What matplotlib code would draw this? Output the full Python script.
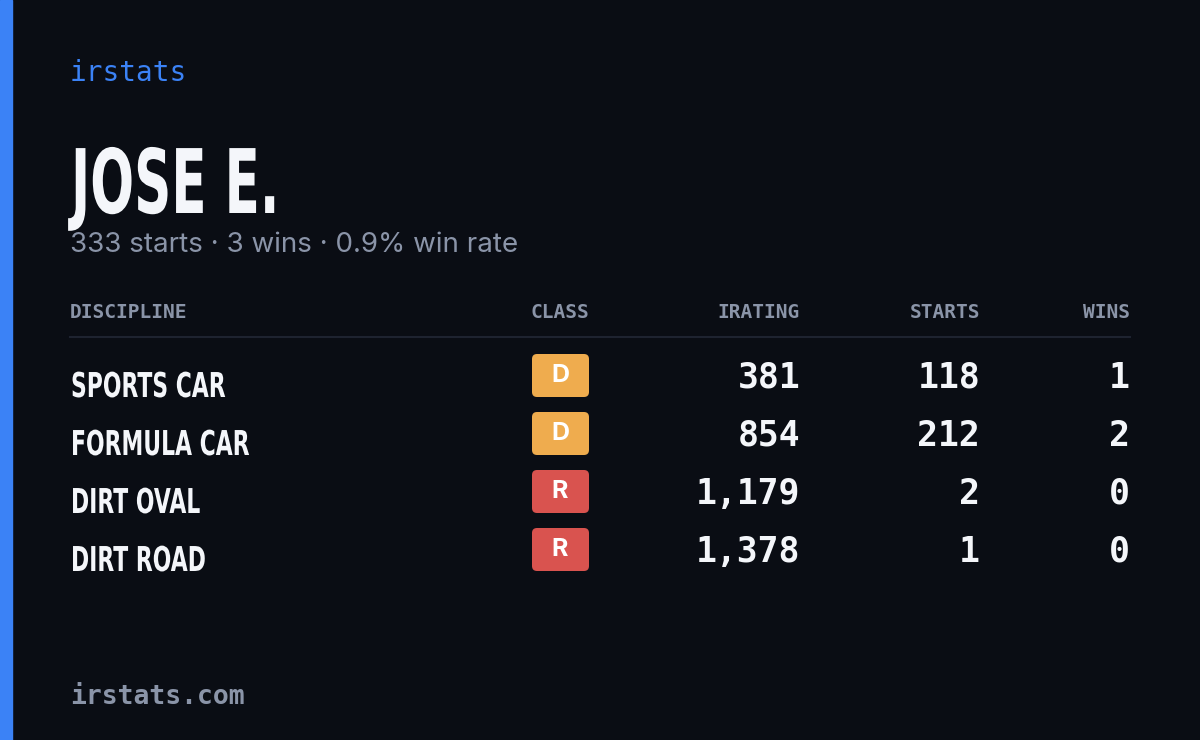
import matplotlib.pyplot as plt
from matplotlib.patches import FancyBboxPatch, Rectangle, PathPatch
from matplotlib.textpath import TextPath
from matplotlib.font_manager import FontProperties
from matplotlib.transforms import Affine2D

# Data
player = "JOSE E."
total_starts = 333
total_wins = 3
disciplines = ["SPORTS CAR", "FORMULA CAR", "DIRT OVAL", "DIRT ROAD"]
classes = ["D", "D", "R", "R"]
iratings = [381, 854, 1179, 1378]
starts = [118, 212, 2, 1]
wins = [1, 2, 0, 0]

bg = "#0a0d14"
gray = "#8a94a8"
white = "#f4f6fa"
class_colors = {"D": "#efac4e", "R": "#d9534f"}
mono = "DejaVu Sans Mono"
boldfp = FontProperties(family="DejaVu Sans", weight="bold")

fig = plt.figure(figsize=(12, 7.4), dpi=100, facecolor=bg)
ax = fig.add_axes([0, 0, 1, 1])
ax.set_xlim(0, 1200)
ax.set_ylim(740, 0)
ax.axis("off")
ax.add_patch(Rectangle((0, 0), 12, 740, color="#3b82f6"))


def narrow_text(s, x, baseline, cap, sx):
    # condensed text: squeeze a bold text path horizontally
    tp = TextPath((0, 0), s, size=100, prop=boldfp)
    sy = cap / 73.0
    tr = Affine2D().scale(sx * sy, -sy).translate(x, baseline)
    ax.add_patch(PathPatch(tr.transform_path(tp), color=white, lw=0))


ax.text(70, 73, "irstats", color="#3b82f6", fontsize=20, family=mono, va="center")
narrow_text(player, 71, 213, 65, 0.58)
rate = total_wins / total_starts * 100
ax.text(70, 245, f"{total_starts} starts · {total_wins} wins · {rate:.1f}% win rate",
        color=gray, fontsize=20, family="Inter", va="center")

# header
hy = 313
kw = dict(color=gray, fontsize=14, family=mono, weight="bold", va="center")
ax.text(70, hy, "DISCIPLINE", **kw)
ax.text(560, hy, "CLASS", ha="center", **kw)
ax.text(800, hy, "IRATING", ha="right", **kw)
ax.text(980, hy, "STARTS", ha="right", **kw)
ax.text(1130, hy, "WINS", ha="right", **kw)
ax.plot([70, 1130], [337, 337], color="#1e2330", lw=1.5)

for i, (d, c, ir, s, w) in enumerate(zip(disciplines, classes, iratings, starts, wins)):
    y = 378 + 58 * i
    narrow_text(d, 71, y + 19, 25, 0.64)
    ax.add_patch(FancyBboxPatch((532, y - 24), 57, 43, boxstyle="round,pad=0,rounding_size=5",
                                color=class_colors[c], lw=0))
    ax.text(560, y - 2, c, color="white", fontsize=18, family="Inter", weight="bold",
            ha="center", va="center")
    for x, v in [(800, ir), (980, s), (1130, w)]:
        ax.text(x, y, f"{v:,}", color=white, fontsize=25, family=mono, weight="bold",
                ha="right", va="center")

ax.text(70, 697, "irstats.com", color=gray, fontsize=19, family=mono, weight="bold", va="center")

fig.savefig("out.png", dpi=100, facecolor=bg)
